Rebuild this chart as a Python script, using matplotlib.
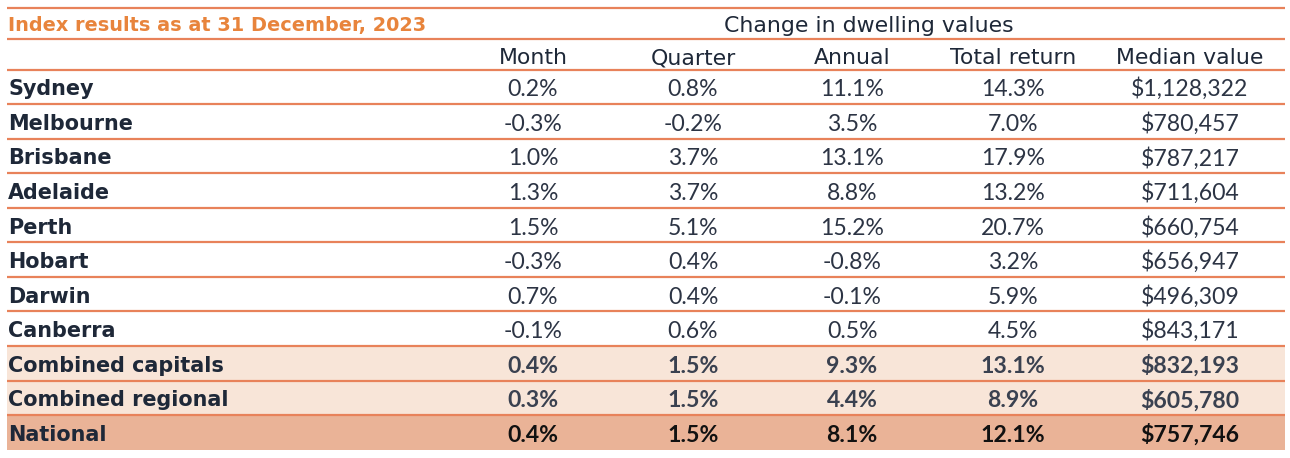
import matplotlib
matplotlib.use("Agg")
import matplotlib.pyplot as plt
from matplotlib.patches import Rectangle

title = "Index results as at 31 December, 2023"
group_header = "Change in dwelling values"
columns = ["Month", "Quarter", "Annual", "Total return", "Median value"]
regions = ["Sydney", "Melbourne", "Brisbane", "Adelaide", "Perth", "Hobart",
           "Darwin", "Canberra", "Combined capitals", "Combined regional", "National"]
month = ["0.2%", "-0.3%", "1.0%", "1.3%", "1.5%", "-0.3%", "0.7%", "-0.1%", "0.4%", "0.3%", "0.4%"]
quarter = ["0.8%", "-0.2%", "3.7%", "3.7%", "5.1%", "0.4%", "0.4%", "0.6%", "1.5%", "1.5%", "1.5%"]
annual = ["11.1%", "3.5%", "13.1%", "8.8%", "15.2%", "-0.8%", "-0.1%", "0.5%", "9.3%", "4.4%", "8.1%"]
total_return = ["14.3%", "7.0%", "17.9%", "13.2%", "20.7%", "3.2%", "5.9%", "4.5%", "13.1%", "8.9%", "12.1%"]
median_value = ["$1,128,322", "$780,457", "$787,217", "$711,604", "$660,754", "$656,947",
                "$496,309", "$843,171", "$832,193", "$605,780", "$757,746"]

W, H = 1290, 458
fig = plt.figure(figsize=(W / 100, H / 100), dpi=100)
ax = fig.add_axes([0, 0, 1, 1])
ax.set_xlim(0, W)
ax.set_ylim(H, 0)
ax.axis("off")

ORANGE = "#E8825A"
TITLE_C = "#E8843C"
TEXT_C = "#1E2838"
VAL_C = "#2C3444"
LIGHT = "#F8E5D8"
DARK = "#EAB397"

x0, x1 = 7, 1285
title_top, title_bot = 7.5, 38.7
header_bot = 69.5
row_h = (449.7 - header_bot) / len(regions)
col_x = [533, 693, 852, 1013, 1190]

def px(p):
    return p * 72 / 100

# backgrounds
for i, r in enumerate(regions):
    top = header_bot + i * row_h
    if r.startswith("Combined"):
        ax.add_patch(Rectangle((x0, top), x1 - x0, row_h, color=LIGHT, lw=0, zorder=0))
    elif r == "National":
        ax.add_patch(Rectangle((x0, top), x1 - x0, row_h, color=DARK, lw=0, zorder=0))

# lines
line_ys = [title_top, title_bot, header_bot] + [header_bot + (i + 1) * row_h for i in range(len(regions) - 1)]
for y in line_ys:
    ax.plot([x0, x1], [y, y], color=ORANGE, lw=1.6, zorder=2, solid_capstyle="butt")

ax.text(8, 31.5, title, fontsize=px(19.3), fontweight="bold",
        color=TITLE_C, family="DejaVu Sans", va="baseline", ha="left")
ax.text(869, 32.5, group_header, fontsize=px(22), color=TEXT_C,
        family="DejaVu Sans", va="baseline", ha="center")
for c, x in zip(columns, col_x):
    ax.text(x, 64.5, c, fontsize=px(22), color=TEXT_C,
            family="DejaVu Sans", va="baseline", ha="center")

cols = [month, quarter, annual, total_return, median_value]
for i, r in enumerate(regions):
    yb = header_bot + (i + 0.5) * row_h + 9.5
    bold_vals = r.startswith("Combined") or r == "National"
    ax.text(8, yb - 1, r, fontsize=px(20.8), fontweight="bold", color=TEXT_C,
            family="DejaVu Sans", va="baseline", ha="left")
    for vals, x in zip(cols, col_x):
        ax.text(x, yb, vals[i], fontsize=px(23), fontweight="bold" if bold_vals else "normal",
                color="#111111" if r == "National" else ("#3A4150" if bold_vals else VAL_C),
                family="Lato", va="baseline", ha="center")

fig.savefig("out.png", dpi=100)
